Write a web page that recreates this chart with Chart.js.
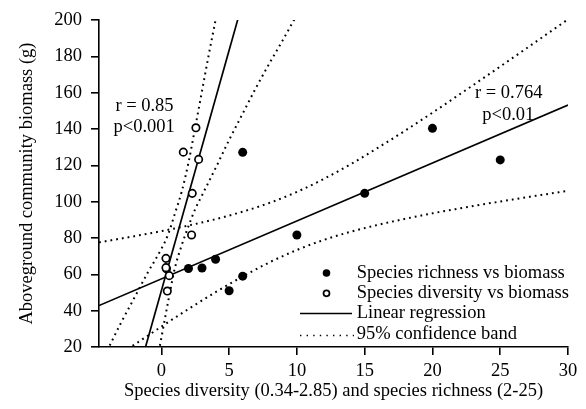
<!DOCTYPE html>
<html>
<head>
<meta charset="utf-8">
<script src="https://cdn.jsdelivr.net/npm/chart.js@4.4.1/dist/chart.umd.min.js"></script>
<style>
  html, body { margin: 0; padding: 0; background: #fff; }
  #wrap { width: 586px; height: 409px; }
</style>
</head>
<body>
<div id="wrap"><canvas id="myChart" width="586" height="409"></canvas></div>
<script>
// observed plots
const richness = [2, 3, 4, 5, 6, 6, 10, 15, 20, 25];
const richnessBiomass = [63.2, 63.5, 68.3, 51, 59, 127.2, 81.7, 104.6, 140.4, 123];
const diversity = [0.34, 0.38, 0.34, 0.58, 0.44, 1.62, 2.23, 2.28, 2.55, 2.75];
const diversityBiomass = [68.8, 63.1, 63.7, 59.3, 50.8, 127.3, 81.7, 104.6, 140.7, 123.3];

// regression lines (end points)
const richRegX = [-4.6, 30];
const richRegY = [42.8, 153.2];
const divRegX = [-1.5, 6];
const divRegY = [11.2, 209.9];

// 95% confidence bands, richness
const richBandX = [-4.6, -2, 0, 2, 4, 6, 8, 10, 12, 14, 16, 18, 20, 22, 24, 26, 28, 30];
const richUpper = [77.6, 81.0, 83.8, 86.9, 90.4, 94.5, 99.4, 105.4, 112.6, 120.8, 129.8, 139.2, 149.0, 159.1, 169.3, 179.6, 190.0, 200.4];
const richLower = [8.0, 21.2, 31.2, 40.9, 50.2, 58.8, 66.7, 73.4, 79.0, 83.5, 87.3, 90.6, 93.6, 96.3, 98.9, 101.3, 103.7, 106.0];

// 95% confidence bands, diversity
const divUpperX = [-4.6, -4, -3, -2, -1, 0, 0.5, 1, 1.5, 2, 2.5, 3, 3.5, 4, 4.5];
const divUpper = [9.5, 18, 33, 47, 61, 74, 82, 93.5, 105.5, 121.5, 141, 161, 181, 200, 219];
const divLowerX = [-0.5, 0, 0.5, 1, 1.5, 2, 2.5, 3, 3.5, 4, 5, 6, 7, 8, 9, 10];
const divLower = [5, 25, 45, 63.5, 76, 86.5, 96, 103.5, 111, 118.5, 134, 148.5, 163, 176.5, 189.5, 203];

const xTicks = [0, 5, 10, 15, 20, 25, 30];
const xTitle = 'Species diversity (0.34-2.85) and species richness (2-25)';
const yTitle = 'Aboveground community biomass (g)';

const legendLabels = ['Species richness vs biomass', 'Species diversity vs biomass', 'Linear regression', '95% confidence band'];

const annoText = ['r = 0.85', 'p<0.001', 'r = 0.764', 'p<0.01'];
const annoX = [-3.39, -3.53, 23.14, 23.67];
const annoY = [152.7, 141.1, 159.7, 147.7];

const FONT = "'Liberation Serif', 'Times New Roman', Times, serif";
const FS = 18.5;

const pts = (xs, ys) => xs.map((x, i) => ({ x: x, y: ys[i] }));

const lineDs = (xs, ys, dotted) => ({
    data: pts(xs, ys),
    showLine: true,
    borderColor: '#000',
    borderWidth: dotted ? 2 : 1.7,
    borderDash: dotted ? [1.8, 4] : [],
    pointRadius: 0,
    cubicInterpolationMode: dotted ? 'monotone' : 'default',
    fill: false,
});

const annotations = {
    id: 'annotations',
    afterDatasetsDraw(chart) {
        const { ctx, scales } = chart;
        ctx.save();
        ctx.font = FS + 'px ' + FONT;
        ctx.fillStyle = '#000';
        ctx.textAlign = 'left';
        ctx.textBaseline = 'middle';
        annoText.forEach((t, i) => {
            ctx.fillText(t, scales.x.getPixelForValue(annoX[i]), scales.y.getPixelForValue(annoY[i]));
        });
        ctx.restore();
    }
};

const insideLegend = {
    id: 'insideLegend',
    afterDraw(chart) {
        const { ctx, chartArea } = chart;
        const r = chartArea.right, b = chartArea.bottom;
        const rows = [b - 74, b - 53.7, b - 33.5, b - 13];
        const mx = r - 241.5;
        const tx = r - 211.3;
        ctx.save();
        ctx.strokeStyle = '#000';
        ctx.fillStyle = '#000';

        // filled dot
        ctx.beginPath();
        ctx.arc(mx, rows[0], 3.8, 0, Math.PI * 2);
        ctx.fill();
        // open dot
        ctx.beginPath();
        ctx.lineWidth = 1.7;
        ctx.arc(mx, rows[1], 3.0, 0, Math.PI * 2);
        ctx.fillStyle = '#fff';
        ctx.fill();
        ctx.stroke();
        // solid line
        ctx.beginPath();
        ctx.lineWidth = 1.7;
        ctx.moveTo(r - 268, rows[2]);
        ctx.lineTo(r - 216, rows[2]);
        ctx.stroke();
        // dotted line
        ctx.beginPath();
        ctx.setLineDash([1.4, 5.2]);
        ctx.lineWidth = 1.4;
        ctx.moveTo(r - 268, rows[3] + 1.5);
        ctx.lineTo(r - 214, rows[3] + 1.5);
        ctx.stroke();
        ctx.setLineDash([]);

        ctx.fillStyle = '#000';
        ctx.font = FS + 'px ' + FONT;
        ctx.textAlign = 'left';
        ctx.textBaseline = 'middle';
        legendLabels.forEach((t, i) => ctx.fillText(t, tx, rows[i]));
        ctx.restore();
    }
};

Chart.defaults.font.family = FONT;
Chart.defaults.font.size = FS;
Chart.defaults.color = '#000';

const ctx = document.getElementById('myChart').getContext('2d');
new Chart(ctx, {
    type: 'scatter',
    data: {
        datasets: [
            {
                data: pts(richness, richnessBiomass),
                backgroundColor: '#000',
                borderColor: '#000',
                pointRadius: 4.5,
                borderWidth: 0,
                showLine: false,
            },
            {
                data: pts(diversity, diversityBiomass),
                backgroundColor: '#fff',
                borderColor: '#000',
                pointRadius: 3.7,
                borderWidth: 1.7,
                showLine: false,
            },
            lineDs(richRegX, richRegY, false),
            lineDs(divRegX, divRegY, false),
            lineDs(richBandX, richUpper, true),
            lineDs(richBandX, richLower, true),
            lineDs(divUpperX, divUpper, true),
            lineDs(divLowerX, divLower, true),
        ],
    },
    options: {
        responsive: false,
        animation: false,
        events: [],
        layout: { padding: { top: 20, right: 18, left: 0, bottom: 0 } },
        plugins: {
            legend: { display: false },
            tooltip: { enabled: false },
        },
        scales: {
            x: {
                type: 'linear',
                min: -4.6,
                max: 30,
                afterBuildTicks: (axis) => { axis.ticks = xTicks.map(v => ({ value: v })); },
                afterFit: (s) => { s.height = 62; },
                border: { display: true, color: '#000', width: 1.6 },
                grid: { display: true, drawOnChartArea: false, drawTicks: true, tickLength: 8, color: '#000', lineWidth: 1.6 },
                ticks: { padding: 5, color: '#000', maxRotation: 0, autoSkip: false },
                title: { display: true, text: xTitle, color: '#000', padding: { top: 0, bottom: 7 } },
            },
            y: {
                type: 'linear',
                min: 20,
                max: 200,
                afterFit: (s) => { s.width = 99; },
                border: { display: true, color: '#000', width: 1.6 },
                grid: { display: true, drawOnChartArea: false, drawTicks: true, tickLength: 8, color: '#000', lineWidth: 1.6 },
                ticks: { stepSize: 20, padding: 9, color: '#000' },
                title: { display: true, text: yTitle, color: '#000', padding: { top: 16, bottom: 0 } },
            },
        },
    },
    plugins: [annotations, insideLegend],
});
</script>
</body>
</html>
